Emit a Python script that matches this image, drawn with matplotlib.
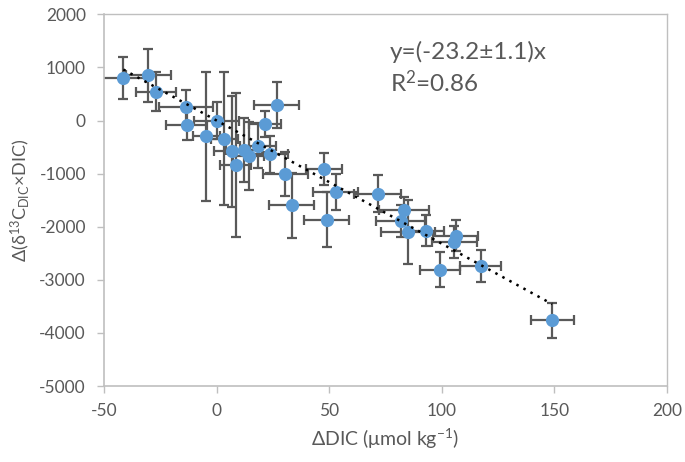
import matplotlib
matplotlib.use("Agg")
import matplotlib.pyplot as plt
import numpy as np

# Data
ddic = [-41.4, -30.3, -27.0, -13.7, -13.3, -4.5, 0.0, 3.5, 6.8, 8.4,
        12.0, 14.2, 18.6, 21.6, 23.8, 26.7, 30.5, 33.4, 47.6, 53.0,
        48.9, 71.5, 83.3, 81.7, 85.1, 92.8, 106.3, 105.5, 99.2, 117.3, 149.0]
dval = [805, 849, 541, 251, -89, -300, -5, -345, -580, -843,
        -560, -660, -475, -65, -640, 289, -1010, -1600, -912, -1352,
        -1868, -1378, -1685, -1885, -2095, -2072, -2166, -2285, -2811, -2745, -3760]
xerr = [10, 10, 9, 12, 9, 6, 10, 6, 8, 7,
        8, 7, 8, 7, 8, 10, 10, 10, 8, 10,
        10, 10.5, 11, 11, 12, 8, 10, 10, 9, 9, 9.6]
yerr = [400, 500, 370, 330, 270, 1220, 350, 1250, 1050, 1360,
        600, 640, 420, 250, 350, 430, 410, 620, 300, 340,
        520, 350, 250, 300, 600, 300, 300, 300, 330, 300, 330]
slope = -23.2
fit_x = [min(ddic), max(ddic)]
xticks = [-50, 0, 50, 100, 150, 200]
yticks = [-5000, -4000, -3000, -2000, -1000, 0, 1000, 2000]

plt.rcParams['font.family'] = ['Lato', 'DejaVu Sans']
plt.rcParams['mathtext.default'] = 'regular'
plt.rcParams['axes.unicode_minus'] = False

gray = '#595959'
fig = plt.figure(figsize=(6.85, 4.62), dpi=100)
ax = fig.add_axes([0.1518, 0.1645, 0.8219, 0.8045])

ax.errorbar(ddic, dval, xerr=xerr, yerr=yerr, fmt='none', ecolor=gray,
            elinewidth=1.6, capsize=3.5, capthick=1.6, zorder=2)
ax.plot(ddic, dval, 'o', color='#5B9BD5', markersize=9.5, zorder=3,
        markeredgewidth=0)
fx = np.array(fit_x)
ax.plot(fx, slope * fx, color='black', linestyle=(0, (1, 2.2)),
        linewidth=1.8, zorder=4)

ax.set_xlim(-50, 200)
ax.set_ylim(-5000, 2000)
ax.set_xticks(xticks)
ax.set_yticks(yticks)
ax.tick_params(axis='both', colors='#bfbfbf', labelcolor=gray, labelsize=12.5,
               direction='out', length=5, width=1)
ax.tick_params(axis='y', pad=8)
ax.tick_params(axis='x', pad=7)
for s in ['left', 'bottom']:
    ax.spines[s].set_color('#bfbfbf')
    ax.spines[s].set_linewidth(1.2)
for s in ['top', 'right']:
    ax.spines[s].set_color('#bfbfbf')
    ax.spines[s].set_linewidth(1.0)

ax.set_xlabel(r'ΔDIC (μmol kg$^{-1}$)', color=gray, fontsize=14, labelpad=6)
ax.set_ylabel(r'Δ(δ$^{13}$C$_{DIC}$×DIC)', color=gray, fontsize=13, labelpad=5)

ax.text(0.508, 0.879, 'y=(-23.2±1.1)x', transform=ax.transAxes, color=gray,
        fontsize=17.5, va='baseline', ha='left')
ax.text(0.508, 0.790, r'R$^{2}$=0.86', transform=ax.transAxes, color=gray,
        fontsize=17.5, va='baseline', ha='left')

fig.savefig('out.png', dpi=100)
